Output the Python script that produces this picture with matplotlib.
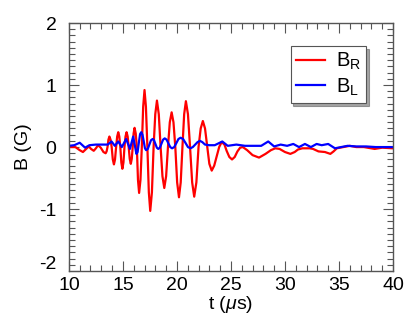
import matplotlib
matplotlib.use("Agg")
import matplotlib.pyplot as plt
from matplotlib.ticker import MultipleLocator, FuncFormatter

plt.rcParams['font.family'] = ['Liberation Sans', 'DejaVu Sans']
plt.rcParams['mathtext.fontset'] = 'custom'
plt.rcParams['mathtext.rm'] = 'Liberation Sans'
plt.rcParams['mathtext.it'] = 'Liberation Sans:italic'
plt.rcParams['axes.unicode_minus'] = False

# Data (B_R: red, B_L: blue)
t_R = [10.0, 10.6, 11.0, 11.3, 11.6, 11.85, 12.05, 12.3, 12.5, 12.7, 12.95, 13.2, 13.4,
       13.49, 13.575, 13.66, 13.75, 13.855, 13.96, 14.065, 14.17, 14.27, 14.37, 14.47,
       14.57, 14.665, 14.76, 14.855, 14.95, 15.05, 15.145, 15.24, 15.34, 15.44, 15.535,
       15.63, 15.73, 15.82, 15.905, 15.99, 16.08, 16.185, 16.29, 16.395, 16.5, 16.625,
       16.75, 16.875, 17.0, 17.13, 17.265, 17.4, 17.53, 17.685, 17.84, 17.995, 18.15,
       18.32, 18.49, 18.66, 18.83, 19.0, 19.17, 19.34, 19.51, 19.68, 19.85, 20.02, 20.19,
       20.35, 20.51, 20.67, 20.83, 21.02, 21.215, 21.41, 21.6, 21.8, 22.0, 22.2, 22.4,
       22.6, 22.81, 23.0, 23.22, 23.45, 23.68, 23.91, 24.14, 24.4, 24.6, 24.85, 25.1,
       25.35, 25.6, 25.85, 26.1, 26.5, 27.0, 27.6, 28.2, 28.7, 29.1, 29.5, 30.0, 30.5,
       30.9, 31.2, 31.6, 31.9, 32.3, 32.6, 33.1, 33.7, 34.2, 34.5, 34.8, 35.4, 36.0,
       36.6, 37.3, 38.3, 39.0, 40.0]
B_R = [0.0, 0.0, -0.05, -0.08, -0.03, 0.01, -0.03, -0.06, -0.02, 0.03, -0.01, -0.08, -0.1,
       -0.07, 0.0, 0.12, 0.17, 0.12, 0.0, -0.2, -0.28, -0.2, 0.0, 0.17,
       0.24, 0.17, 0.0, -0.25, -0.35, -0.25, 0.0, 0.17, 0.24, 0.17, 0.0,
       -0.19, -0.27, -0.19, 0.0, 0.22, 0.31, 0.22, 0.0, -0.53, -0.74, -0.53,
       0.0, 0.65, 0.92, 0.65, 0.0, -0.73, -1.03, -0.73, 0.0, 0.53, 0.75,
       0.53, 0.0, -0.47, -0.66, -0.47, 0.0, 0.4, 0.56, 0.4, 0.0, -0.57, -0.81,
       -0.57, 0.0, 0.53, 0.74, 0.53, 0.0, -0.57, -0.8, -0.57, 0.0, 0.3, 0.42,
       0.3, 0.0, -0.27, -0.38, -0.3, -0.15, 0.0, 0.08, 0.04, -0.06, -0.16, -0.2,
       -0.16, -0.07, -0.01, 0.0, -0.05, -0.13, -0.17, -0.11, -0.05, -0.02, -0.03, -0.08, -0.11,
       -0.08, -0.04, -0.02, -0.02, -0.02, -0.03, -0.07, -0.08, -0.11, -0.07, -0.02, 0.0, 0.02,
       0.0, 0.0, -0.03, -0.01, -0.02]

t_L = [10.0, 10.5, 11.0, 11.5, 11.9, 12.5, 13.2, 13.6, 13.95, 14.25, 14.57, 14.9, 15.3,
       15.65, 15.95, 16.25, 16.36, 16.47, 16.59, 16.7, 16.81, 16.92, 17.04, 17.15, 17.3,
       17.45, 17.6, 17.75, 17.88, 18.01, 18.14, 18.27, 18.42, 18.57, 18.72, 18.87, 19.04,
       19.21, 19.38, 19.55, 19.75, 19.95, 20.14, 20.34, 20.57, 20.8, 21.02, 21.25, 21.47,
       21.69, 21.91, 22.13, 22.35, 22.6, 23.0, 23.5, 24.2, 24.7, 25.5, 26.3, 27.2, 27.8,
       28.45, 29.0, 29.6, 30.2, 30.77, 31.3, 31.85, 32.4, 32.93, 33.4, 34.0, 34.63, 35.2,
       35.8, 36.6, 37.5, 38.4, 39.2, 40.0]
B_L = [0.02, 0.03, 0.07, -0.01, 0.03, 0.04, 0.04, 0.04, 0.09, 0.02, 0.09, 0.0, 0.13,
       -0.03, 0.17, -0.11, -0.08, 0.065, 0.21, 0.24, 0.2, 0.1, -0.02, -0.05, -0.03,
       0.04, 0.11, 0.13, 0.11, 0.05, -0.01, -0.03, -0.01, 0.055, 0.12, 0.14, 0.12,
       0.06, 0.0, -0.02, 0.0, 0.065, 0.13, 0.15, 0.13, 0.065, 0.0, -0.02, 0.0,
       0.04, 0.08, 0.1, 0.08, 0.04, 0.03, 0.03, 0.09, 0.02, 0.04, 0.02, 0.02, 0.02,
       0.09, 0.01, 0.04, 0.02, 0.05, 0.0, 0.05, 0.0, 0.05, 0.03, 0.05, -0.02, 0.0,
       0.02, 0.01, 0.01, 0.0, 0.0, 0.0]

y_min, y_max = -2, 2

fig = plt.figure(figsize=(4.15, 3.25), dpi=100)
ax = fig.add_axes([0.166, 0.166, 0.781, 0.763])

ax.plot(t_R, B_R, color='#ff0000', lw=1.6, label=r'B$_\mathregular{R}$')
ax.plot(t_L, B_L, color='#0000ff', lw=1.6, label=r'B$_\mathregular{L}$')

ax.set_xlim(10, 40)
ax.set_ylim(y_min, y_max)
ax.xaxis.set_major_locator(MultipleLocator(5))
ax.xaxis.set_minor_locator(MultipleLocator(1))
ax.yaxis.set_major_locator(MultipleLocator(1))
ax.yaxis.set_minor_locator(MultipleLocator(0.1))
# bottom y label is drawn separately, lifted slightly as in the reference
ax.yaxis.set_major_formatter(FuncFormatter(lambda v, p: '' if abs(v - y_min) < 1e-9 else '%g' % v))
ax.tick_params(which='both', direction='in', top=True, right=True, color='#555555', width=0.8)
ax.tick_params(which='major', length=7, labelsize=14)
ax.tick_params(axis='x', which='major', pad=4)
ax.tick_params(axis='y', which='major', pad=9)
ax.tick_params(which='minor', length=4)
for s in ax.spines.values():
    s.set_color('#555555')
    s.set_linewidth(1.0)

ax.annotate('%g' % y_min, xy=(0, y_min), xycoords=('axes fraction', 'data'),
            xytext=(-9, 5), textcoords='offset points', ha='right', va='center',
            fontsize=14)

ax.set_xlabel(r't ($\mu$s)', fontsize=14, labelpad=0)
ax.set_ylabel('B (G)', fontsize=14, labelpad=5)

leg = ax.legend(loc='upper right', bbox_to_anchor=(0.917, 0.907), borderaxespad=0,
                fontsize=14.5, fancybox=False, shadow=True, handlelength=1.45,
                handletextpad=0.55, borderpad=0.25, labelspacing=0.2, framealpha=1)
leg.get_frame().set_edgecolor('#555555')
leg.get_frame().set_linewidth(0.8)

fig.savefig('out.png', dpi=100)
